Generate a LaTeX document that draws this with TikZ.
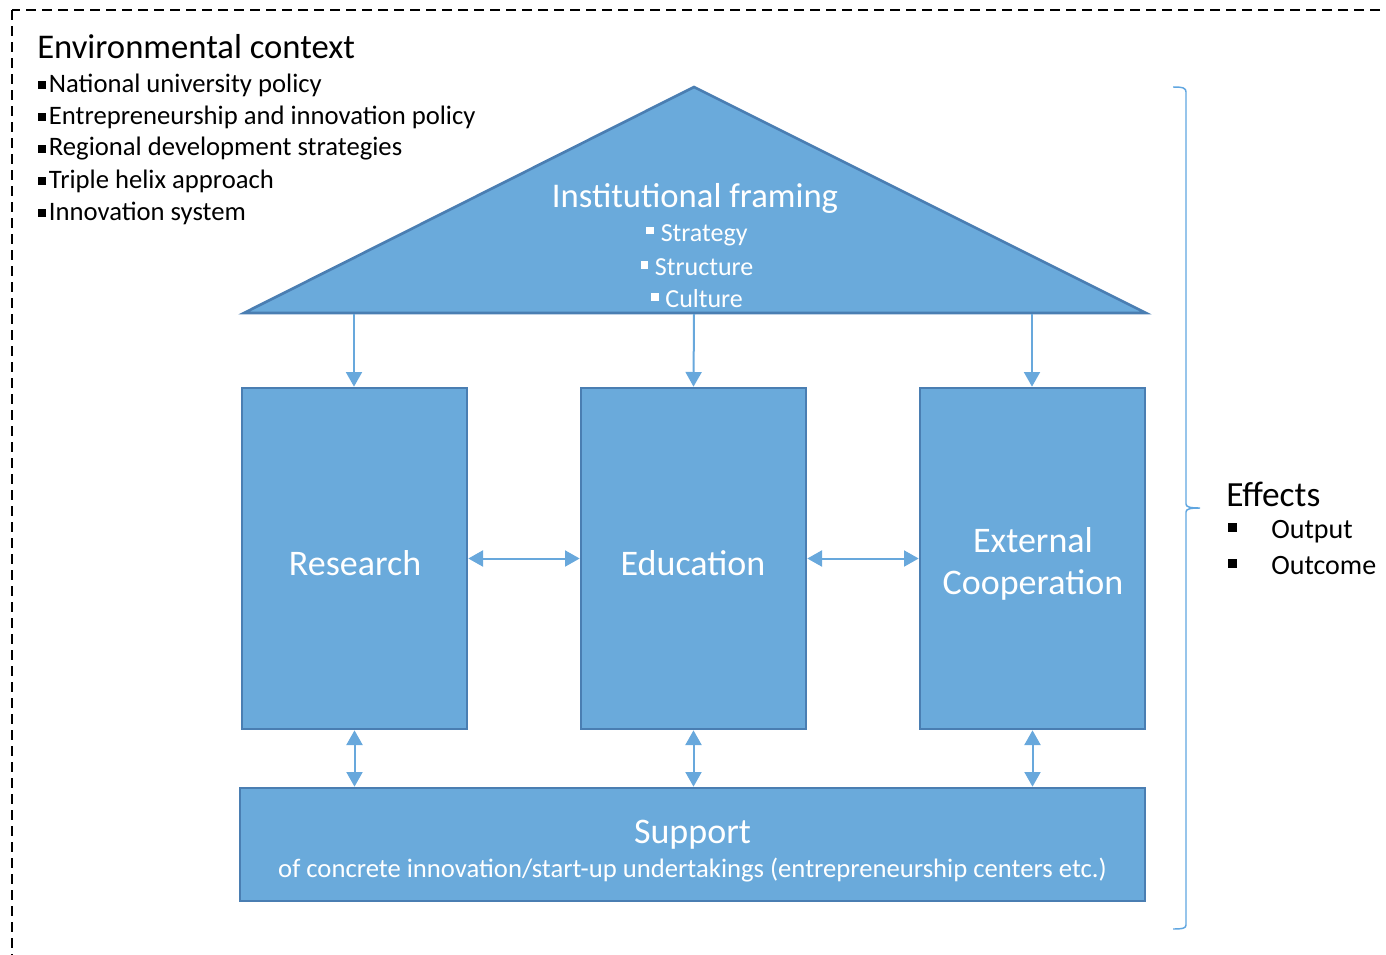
\documentclass[tikz,border=0pt]{standalone}
\usepackage{fontspec}
\setmainfont{Carlito}
\usetikzlibrary{arrows.meta}
\definecolor{boxfill}{RGB}{106,170,219}
\definecolor{boxline}{RGB}{74,126,178}
\definecolor{arr}{RGB}{104,168,220}
\definecolor{bracecol}{RGB}{96,166,224}
\newcommand\blk[1]{\rule[#1]{0.3em}{0.3em}}
\tikzset{
  box/.style={draw=boxline, fill=boxfill, line width=2pt, inner sep=0pt},
  conn/.style={draw=arr, line width=1.5pt, -{Triangle[width=12pt,length=11pt]}},
  dconn/.style={draw=arr, line width=1.5pt, {Triangle[width=12pt,length=11pt]}-{Triangle[width=12pt,length=11pt]}},
  wtext/.style={text=white, inner sep=0pt, align=center},
  btext/.style={text=black, inner sep=0pt, anchor=west}
}
\begin{document}
\begin{tikzpicture}[x=0.75pt,y=-0.75pt]
\useasboundingbox (0,0) rectangle (1386,954);
\begin{scope}
\clip (0,0) rectangle (1386,954);
\draw[line width=1.9pt, dash pattern=on 7.5pt off 4.5pt] (12,10) rectangle (1420,990);
\end{scope}

% environmental context
\node[btext, font=\fontsize{26}{31}\selectfont] (envtitle) at (37,47) {Environmental context};
\node[btext, font=\fontsize{20}{24}\selectfont] (env1) at (38,85) {\blk{0.12em}\hspace{0.1em}National university policy};
\node[btext, font=\fontsize{20}{24}\selectfont] (env2) at (38,117) {\blk{0.12em}\hspace{0.1em}Entrepreneurship and innovation policy};
\node[btext, font=\fontsize{20}{24}\selectfont] (env3) at (38,149) {\blk{0.12em}\hspace{0.1em}Regional development strategies};
\node[btext, font=\fontsize{20}{24}\selectfont] (env4) at (38,181) {\blk{0.12em}\hspace{0.1em}Triple helix approach};
\node[btext, font=\fontsize{20}{24}\selectfont] (env5) at (38,213) {\blk{0.12em}\hspace{0.1em}Innovation system};

% roof
\draw[box] (694,87) -- (1146,313) -- (244,313) -- cycle;
\node[wtext, font=\fontsize{26}{31}\selectfont] (inst) at (695,198) {Institutional framing};
\node[wtext, font=\fontsize{19.5}{23}\selectfont] (inst1) at (697,235) {\blk{0.26em}\hspace{0.25em}Strategy};
\node[wtext, font=\fontsize{19.5}{23}\selectfont] (inst2) at (697,267) {\blk{0.26em}\hspace{0.25em}Structure};
\node[wtext, font=\fontsize{19.5}{23}\selectfont] (inst3) at (697,299) {\blk{0.26em}\hspace{0.25em}Culture};
\coordinate (b1) at (354,314);
\coordinate (b2) at (694,314);
\coordinate (b3) at (1032,314);

% pillars
\node[box, minimum width=168.75pt, minimum height=255.75pt] (research) at (354.5,558.5) {};
\node[box, minimum width=168.75pt, minimum height=255.75pt] (education) at (693.5,558.5) {};
\node[box, minimum width=168.75pt, minimum height=255.75pt] (external) at (1032.5,558.5) {};
\node[wtext, font=\fontsize{27}{31.5}\selectfont] (researcht) at (355,563) {Research};
\node[wtext, font=\fontsize{27}{31.5}\selectfont] (educationt) at (693,563) {Education};
\node[wtext, font=\fontsize{27}{31.5}\selectfont] (externalt) at (1033,564) {External\\Cooperation};

% support
\node[box, minimum width=678.75pt, minimum height=84.75pt] (support) at (692.5,844.5) {};
\node[wtext, font=\fontsize{27}{31}\selectfont] (supportt) at (692.5,835) {Support};
\node[wtext, font=\fontsize{20}{24}\selectfont] (supportt2) at (692.5,870) {of concrete innovation/start-up undertakings (entrepreneurship centers etc.)};

% connectors
\draw[conn] (b1) -- (b1 |- research.north);
\draw[conn] (b2) -- (education.north);
\draw[conn] (b3) -- (b3 |- external.north);
\draw[dconn] (research.east) -- (education.west);
\draw[dconn] (education.east) -- (external.west);
\draw[dconn] (research.south) -- (research.south |- support.north);
\draw[dconn] (education.south) -- (education.south |- support.north);
\draw[dconn] (external.south) -- (external.south |- support.north);

% brace
\draw[bracecol, line width=1.1pt] (1173,87) .. controls (1183,87) and (1186,88) .. (1186,92) -- (1186,504) .. controls (1186,507) and (1190,508) .. (1200,508) .. controls (1190,508) and (1186,509) .. (1186,512) -- (1186,925) .. controls (1186,928) and (1183,929) .. (1173,929);

% effects
\node[btext, font=\fontsize{26.5}{31}\selectfont] (eff) at (1226,494) {Effects};
\node[btext, font=\fontsize{21}{25}\selectfont] (eff1) at (1228,532) {\makebox[32.25pt][l]{\blk{0.26em}}Output};
\node[btext, font=\fontsize{21}{25}\selectfont] (eff2) at (1228,566) {\makebox[32.25pt][l]{\blk{0.26em}}Outcome};
\end{tikzpicture}
\end{document}
